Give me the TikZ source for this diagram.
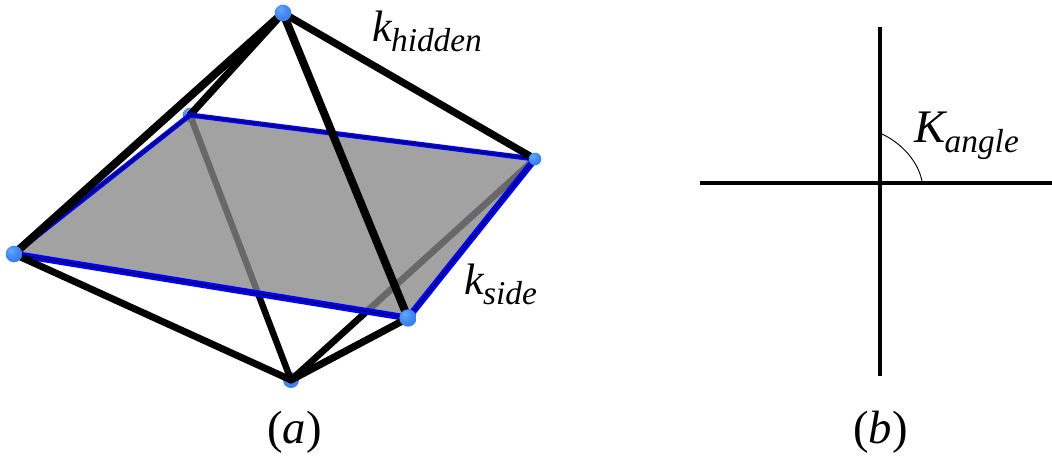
\documentclass[tikz,border=0pt]{standalone}
\usepackage{fontspec}
\setmainfont{Liberation Serif}
\pgfdeclareradialshading{vertexshade}{\pgfpoint{-10bp}{12bp}}{%
  rgb(0bp)=(0.38,0.66,1.0);
  rgb(22bp)=(0.25,0.52,0.95);
  rgb(50bp)=(0.20,0.44,0.88);
  rgb(100bp)=(0.20,0.44,0.88)}
\tikzset{
  blackedge/.style={draw=black,line width=#1,line cap=round},
  blueedge/.style={draw={rgb,255:red,0;green,0;blue,245},line width=#1,line cap=round},
  inneredge/.style={draw=black,line width=0.6pt},
  plane/.style={fill=black!47,fill opacity=0.773,draw=none},
  crossline/.style={draw=black,line width=3pt},
  thinarc/.style={draw=black,line width=0.7pt},
  vertexball/.style={circle,inner sep=0pt,draw=none,minimum size=#1,shading=vertexshade},
  lab/.style={inner sep=0pt,anchor=base west}
}
\newcommand{\labelsub}[3]{{\fontsize{#1}{#1}\selectfont\itshape #2}\kern-0.5pt\raisebox{-7.5pt}{\fontsize{25}{25}\selectfont\itshape #3}}
\begin{document}
\begin{tikzpicture}[x=0.75pt,y=-0.75pt]
\useasboundingbox (0,0) rectangle (1052,455);
\coordinate (T) at (283,13);
\coordinate (L) at (14,254);
\coordinate (B) at (190,115);
\coordinate (R) at (535,159);
\coordinate (F) at (408,318);
\coordinate (D) at (291,380);
% balls and edges behind the plane
\node[vertexball=11pt] (nB) at (B) {};
\node[vertexball=12pt] (nD) at (D) {};
\draw[blackedge=4.8pt] (B) -- (D);
\draw[blackedge=5pt] (R) -- (D);
\draw[blackedge=5.4pt] (T) -- (B);
% plane
\fill[plane] (L) -- (B) -- (R) -- (F) -- cycle;
% blue square
\draw[blueedge=3.8pt] (L) -- (B);
\draw[blueedge=3.8pt] (B) -- (R);
\draw[blueedge=5pt] (R) -- (F);
\draw[blueedge=5pt] (F) -- (L);
\draw[inneredge] (L) -- (B);
\draw[inneredge] (B) -- (R);
\draw[inneredge] (R) -- (F);
\draw[inneredge] (F) -- (L);
% front edges
\draw[blackedge=6pt] (T) -- (L);
\draw[blackedge=5.4pt] (T) -- (R);
\draw[blackedge=6pt] (T) -- (F);
\draw[blackedge=5.2pt] (L) -- (D);
\draw[blackedge=5.4pt] (F) -- (D);
% vertices
\node[vertexball=12.5pt] (nT) at (T) {};
\node[vertexball=12.5pt] (nL) at (L) {};
\node[vertexball=9.5pt] (nR) at (R) {};
\node[vertexball=13pt] (nF) at (F) {};
% labels
\node[lab] (khidden) at (372,41) {\labelsub{33}{k}{hidden}};
\node[lab] (kside) at (464,294) {\labelsub{33}{k}{side}};
\node[lab] (kangle) at (914,142) {\labelsub{35}{K}{angle}};
\node[lab] (capa) at (267,443) {\fontsize{35}{35}\selectfont(\textit{a})};
\node[lab] (capb) at (853,443) {\fontsize{35}{35}\selectfont(\textit{b})};
% cross
\coordinate (Ctop) at (880,27);
\coordinate (Cbot) at (880,376);
\coordinate (Cl) at (700,183);
\coordinate (Cr) at (1052,183);
\coordinate (Aup) at (882,134);
\coordinate (Art) at (922,181);
\draw[crossline] (Ctop) -- (Cbot);
\draw[crossline] (Cl) -- (Cr);
\draw[thinarc] (Aup) .. controls (903,144) and (918,162) .. (Art);
\end{tikzpicture}
\end{document}
